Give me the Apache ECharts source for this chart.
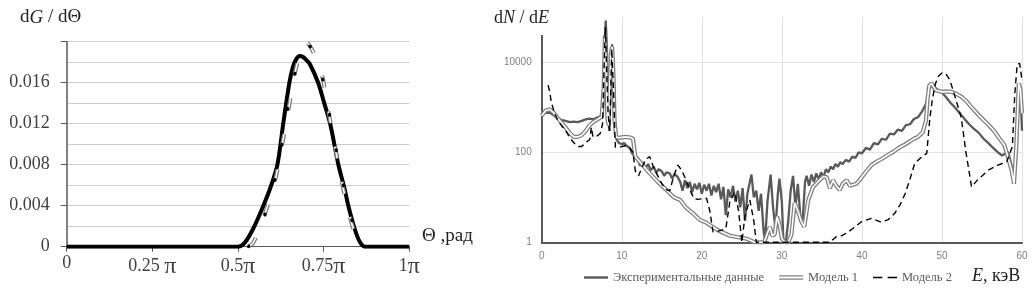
<!DOCTYPE html>
<html><head><meta charset="utf-8">
<script src="https://cdn.jsdelivr.net/npm/echarts@6/dist/echarts.min.js"></script>
<style>html,body{margin:0;padding:0;background:#fff}#c{width:1035px;height:290px}</style>
</head><body><div id="c"></div>
<script>
// ---------- Left panel: dG/dΘ vs Θ (Θ in units of π) ----------
const thetaTicks = [0, 0.25, 0.5, 0.75, 1];
const thetaTickLabels = ['0', '0.25 π', '0.5π', '0.75π', '1π'];
const gTickLabels = ['0', '0.004', '0.008', '0.012', '0.016', ''];

const angSolid = [[0,0],[0.5,0],[0.52,0.0004],[0.545,0.0018],[0.574,0.004],[0.595,0.0058],[0.615,0.008],[0.632,0.012],[0.65,0.016],[0.66,0.0175],[0.67,0.0183],[0.68,0.0186],[0.69,0.0185],[0.70,0.0182],[0.71,0.0178],[0.734,0.016],[0.75,0.0142],[0.769,0.012],[0.793,0.008],[0.81,0.0058],[0.822,0.004],[0.84,0.0018],[0.855,0.0005],[0.87,0],[1,0]];
const angModelA = [[0.53,0],[0.545,0.0004],[0.572,0.0026],[0.605,0.006],[0.628,0.0098],[0.647,0.0133],[0.666,0.0169],[0.685,0.0192],[0.70,0.0199],[0.715,0.0193],[0.744,0.0169],[0.764,0.0132],[0.783,0.0098],[0.80,0.0068],[0.82,0.0038],[0.84,0.0014],[0.86,0.0002],[0.87,0]];
const angModelB = [[0.53,0],[0.55,0.0009],[0.59,0.0042],[0.625,0.0095],[0.654,0.0151],[0.68,0.0186],[0.70,0.0197],[0.73,0.0187],[0.754,0.0151],[0.775,0.0115],[0.80,0.0072],[0.825,0.0035],[0.85,0.0008],[0.87,0]];

// ---------- Right panel: dN/dE vs E (keV), log scale ----------
const energyTicks = [0, 10, 20, 30, 40, 50, 60];
const logTickLabels = [1, 100, 10000];
const seriesNames = ['Экспериментальные данные', 'Модель 1', 'Модель 2'];

const expData = [[0,700],[0.5,750],[1,760],[1.5,660],[2,580],[2.5,520],[3,500],[3.5,470],[4,480],[4.5,470],[5,500],[5.5,540],[6,560],[6.5,540],[7,600],[7.4,640],[7.7,1500],[7.85,25000],[8.0,85000],[8.15,20000],[8.3,600],[8.45,300],[8.6,3000],[8.8,25000],[9.0,6000],[9.15,500],[9.3,200],[9.6,165],[10,150],[10.3,160],[10.6,140],[11,125],[11.3,95],[11.6,80],[12,70],[12.3,50],[12.6,60],[13,45],[13.3,55],[13.6,40],[14,48],[14.3,35],[14.6,42],[15,38],[15.3,30],[15.6,36],[16,34],[16.3,26],[16.6,33],[17,28],[17.3,22],[17.6,14],[17.9,24],[18.2,16],[18.5,22],[18.8,13],[19.1,20],[19.4,15],[19.7,21],[20,12],[20.3,19],[20.6,14],[20.9,20],[21.2,11],[21.5,18],[21.8,13],[22.1,20],[22.4,9],[22.7,17],[23.0,4],[23.3,15],[23.6,10],[23.9,18],[24.2,8],[24.5,14],[24.8,6],[25.1,16],[25.4,3],[25.7,12],[26.0,22],[26.2,32],[26.5,10],[26.8,14],[27.1,5],[27.4,12],[27.7,2],[27.9,1],[28.2,8],[28.6,32],[28.9,6],[29.2,2],[29.5,12],[29.7,26],[30.0,8],[30.2,1],[30.5,1],[30.8,3],[31.1,14],[31.4,30],[31.7,6],[32.0,20],[32.3,4],[32.6,3],[32.9,22],[33.1,30],[33.4,18],[33.7,32],[34.0,22],[34.3,34],[34.6,25],[34.9,36],[35.2,28],[35.5,42],[35.8,36],[36.1,48],[36.4,42],[36.7,55],[37.0,48],[37.3,60],[37.6,55],[38.0,68],[38.4,62],[38.8,80],[39.2,75],[39.6,100],[40,95],[40.5,125],[41,115],[41.5,160],[42,150],[42.5,200],[43,190],[43.5,260],[44,250],[44.5,320],[45,300],[45.5,400],[46,420],[46.5,550],[47,600],[47.5,800],[48,1200],[48.4,2500],[48.8,3200],[49.2,2700],[50,2100],[50.5,1700],[51,1300],[51.6,1000],[52.2,750],[52.8,560],[53.4,420],[54,330],[54.6,270],[55.2,200],[55.8,160],[56.4,125],[57,100],[57.5,85],[58,95],[58.3,100],[58.7,50],[59,20],[59.3,200],[59.6,2000],[59.8,3000],[60,300]];

const model1 = [[0,650],[0.5,850],[1,900],[1.5,760],[2,580],[2.5,450],[3,350],[3.5,270],[4,220],[4.5,220],[5,240],[5.5,300],[6,400],[6.5,480],[7,540],[7.5,620],[7.75,3000],[7.9,40000],[8.05,8000],[8.2,600],[8.35,400],[8.5,3000],[8.65,15000],[8.8,22000],[8.95,6000],[9.1,500],[9.3,220],[9.6,210],[10,215],[10.4,220],[10.6,200],[11,215],[11.4,200],[11.7,80],[12.5,55],[13.5,34],[14.5,22],[15.5,15],[16.5,10],[17.3,8.7],[18,6],[18.9,4.4],[19.7,3.2],[20.6,2.7],[21.9,1.9],[23.5,1.4],[25.6,1.2],[26.6,1],[27.8,1],[28.2,1.6],[28.5,2.2],[28.8,1.4],[29.1,1.5],[29.4,3.7],[29.7,2.5],[30,1.2],[30.4,1],[30.8,1],[31.2,1.5],[31.6,7.5],[32,5],[32.4,3],[32.8,2.2],[33.3,8.7],[33.9,17],[34.7,24],[35.2,29],[35.6,28],[36,16],[36.4,24],[36.8,18],[37.2,14.5],[37.6,20],[38.1,24],[38.5,18],[38.9,19],[39.3,20],[39.7,24],[40.5,37],[41.2,52],[41.7,60],[42.4,70],[43.3,88],[44,105],[44.6,125],[45.4,150],[46,175],[46.5,200],[47,220],[47.6,280],[48,500],[48.2,1500],[48.4,3000],[48.7,3400],[49.2,2400],[49.6,2300],[50,2200],[50.5,2250],[51.2,2200],[51.8,2000],[52.4,1730],[53,1400],[53.7,1000],[54.5,700],[55.2,520],[55.8,410],[56.5,300],[57.2,200],[57.8,145],[58.3,72],[58.7,40],[59,20],[59.3,150],[59.6,3400],[59.8,2500],[60,740]];

const model2 = [[0.8,3100],[1.0,2200],[1.2,1300],[1.6,740],[2.1,480],[2.6,370],[3.1,280],[3.6,200],[4.2,150],[4.6,135],[5.0,135],[5.6,170],[6.0,190],[6.2,360],[6.4,220],[6.9,230],[7.3,260],[7.6,420],[7.8,8000],[7.95,60000],[8.1,8000],[8.3,700],[8.5,300],[8.75,20000],[8.95,3000],[9.2,130],[9.8,130],[10.4,140],[11,125],[11.4,100],[11.7,38],[12.1,30],[12.5,45],[13,70],[13.5,80],[14,45],[14.5,30],[15,20],[15.5,15],[16,14],[16.5,30],[17,52],[17.5,40],[18,25],[18.5,15],[19,9.5],[19.5,9],[20.6,9.5],[21,5],[21.4,1.7],[22.2,1.8],[23,2],[23.5,8],[24.1,13],[24.6,5],[25,1],[25.4,4],[26,8.7],[26.5,3],[26.8,1],[36,1],[36.8,1.33],[37.5,1.4],[38.3,1.7],[40,2.9],[41.2,3.4],[42.4,2.8],[43.3,3.2],[44.1,4.4],[44.8,7],[45.4,12],[46,25],[46.6,57],[47.5,80],[48.1,95],[48.5,600],[48.8,1500],[49.2,3400],[49.6,5000],[50,5800],[50.5,5500],[51,4000],[51.6,1800],[52.4,600],[53,100],[53.7,17],[54.5,25],[55.8,40],[57,52],[58.1,62],[58.8,135],[59.1,2000],[59.4,9000],[59.7,9500],[60,4000]];

const serif = 'Liberation Serif';
const sans = 'Liberation Sans';
const dark = '#404040';

function thetaLabel(v) {
  const i = thetaTicks.findIndex(t => Math.abs(t - v) < 1e-6);
  if (i < 0) return '';
  const s = thetaTickLabels[i];
  const k = s.indexOf('π');
  return k < 0 ? '{n|' + s + '}' : '{n|' + s.slice(0, k) + '}{p|π}';
}
function gLabel(v) {
  const i = Math.round(v / 0.004);
  return gTickLabels[i] !== undefined ? gTickLabels[i] : '';
}
function logLabel(v) {
  const r = Math.round(v);
  return logTickLabels.includes(r) ? String(r) : '';
}
const rn = (size) => ({fontFamily: serif, fontSize: size, fontWeight: 'normal', color: '#222'});
const ri = (size) => ({fontFamily: serif, fontSize: size, fontWeight: 'normal', fontStyle: 'italic', color: '#222'});

const chart = echarts.init(document.getElementById('c'), null, {renderer: 'canvas'});
chart.setOption({
  animation: false,
  backgroundColor: '#fff',
  title: [
    {text: '{n|d}{i|G}{n| / dΘ}', left: 20, top: 8, padding: 0,
     textStyle: {fontWeight: 'normal', rich: {n: rn(19), i: ri(19)}}},
    {text: 'Θ ,рад', left: 422, top: 227, padding: 0,
     textStyle: {fontFamily: serif, fontSize: 19, fontWeight: 'normal', color: '#222'}},
    {text: '{n|d}{i|N}{n| / d}{i|E}', left: 492, top: 0, padding: [9, 8, 8, 2], backgroundColor: '#fff',
     textStyle: {fontWeight: 'normal', rich: {n: rn(18), i: ri(18)}}},
    {text: '{i|E}{n|, кэВ}', left: 972, top: 267, padding: 0,
     textStyle: {fontWeight: 'normal', rich: {n: rn(18), i: ri(18)}}}
  ],
  legend: {
    left: 584, top: 271, padding: 0, itemWidth: 24, itemHeight: 5, itemGap: 15,
    textStyle: {fontFamily: serif, fontSize: 12.5, color: '#595959'},
    data: [
      {name: seriesNames[0], icon: 'path://M0,0H24V2.4H0Z', itemStyle: {color: '#595959', borderWidth: 0}},
      {name: seriesNames[1], icon: 'path://M0,0H24V1.3H0ZM0,3.2H24V4.5H0Z', itemStyle: {color: '#808080', borderWidth: 0}},
      {name: seriesNames[2], icon: 'path://M0,0H9V1.5H0ZM14,0H23V1.5H14Z', itemStyle: {color: '#000', borderWidth: 0}}
    ]
  },
  grid: [
    {left: 66.7, right: 625.7, top: 41.7, bottom: 43.3},
    {left: 541.7, right: 13, top: 17.3, bottom: 47.7}
  ],
  xAxis: [
    {type: 'value', gridIndex: 0, min: 0, max: 1, interval: 0.25,
     axisLine: {show: true, lineStyle: {color: '#595959', width: 1}},
     axisTick: {show: true, length: 5, lineStyle: {color: '#595959'}},
     splitLine: {show: false},
     axisLabel: {margin: 8, formatter: thetaLabel,
       rich: {n: {fontFamily: serif, fontSize: 18, color: dark}, p: {fontFamily: serif, fontSize: 24, color: dark}}}},
    {type: 'value', gridIndex: 1, min: 0, max: 60, interval: 10,
     axisLine: {show: true, lineStyle: {color: '#595959', width: 2}},
     axisTick: {show: false},
     splitLine: {show: true, lineStyle: {color: '#e3e3e3', width: 1}},
     axisLabel: {margin: 9, fontFamily: sans, fontSize: 10, color: '#808080'}}
  ],
  yAxis: [
    {type: 'value', gridIndex: 0, min: 0, max: 0.02, interval: 0.004,
     axisLine: {show: true, lineStyle: {color: '#595959', width: 1.5}},
     axisTick: {show: true, length: 6, lineStyle: {color: '#595959'}},
     minorTick: {show: false, splitNumber: 2},
     splitLine: {show: true, lineStyle: {color: '#cccccc', width: 1}},
     minorSplitLine: {show: true, lineStyle: {color: '#cccccc', width: 1}},
     axisLabel: {margin: 17, fontFamily: serif, fontSize: 18, color: dark, formatter: gLabel}},
    {type: 'log', logBase: 10, gridIndex: 1, min: 1, max: 100000,
     axisLine: {show: true, lineStyle: {color: '#595959', width: 2}},
     axisTick: {show: false},
     splitLine: {show: true, lineStyle: {color: ['#e3e3e3', 'rgba(0,0,0,0)'], width: 1}},
     axisLabel: {margin: 10, fontFamily: sans, fontSize: 10, color: '#808080', formatter: logLabel}}
  ],
  series: [
    {name: 'angSolid', type: 'line', xAxisIndex: 0, yAxisIndex: 0, data: angSolid, symbol: 'none', smooth: 0.3,
     lineStyle: {color: '#000', width: 4}, z: 2},
    {name: 'angA', type: 'line', xAxisIndex: 0, yAxisIndex: 0, data: angModelA, symbol: 'none', smooth: 0.3,
     lineStyle: {color: '#7a7a7a', width: 4, type: [12, 24]}, z: 3},
    {name: 'angAin', type: 'line', xAxisIndex: 0, yAxisIndex: 0, data: angModelA, symbol: 'none', smooth: 0.3,
     lineStyle: {color: '#fff', width: 1.5, type: [12, 24]}, z: 4},
    {name: 'angB', type: 'line', xAxisIndex: 0, yAxisIndex: 0, data: angModelB, symbol: 'none', smooth: 0.3,
     lineStyle: {color: '#000', width: 3, type: [1, 35], cap: 'round'}, z: 5},

    {name: seriesNames[0], type: 'line', xAxisIndex: 1, yAxisIndex: 1, data: expData, symbol: 'none',
     itemStyle: {color: '#595959'}, lineStyle: {color: '#595959', width: 2.3}, z: 2},
    {name: seriesNames[1], type: 'line', xAxisIndex: 1, yAxisIndex: 1, data: model1, symbol: 'none',
     itemStyle: {color: '#808080'}, lineStyle: {color: '#808080', width: 4.2}, z: 3},
    {name: 'model1inner', type: 'line', xAxisIndex: 1, yAxisIndex: 1, data: model1, symbol: 'none', silent: true,
     itemStyle: {color: '#fff'}, lineStyle: {color: '#fff', width: 1.6}, z: 4},
    {name: seriesNames[2], type: 'line', xAxisIndex: 1, yAxisIndex: 1, data: model2, symbol: 'none',
     itemStyle: {color: '#000'}, lineStyle: {color: '#000', width: 1.4, type: [6, 4]}, z: 5}
  ]
});
</script></body></html>
